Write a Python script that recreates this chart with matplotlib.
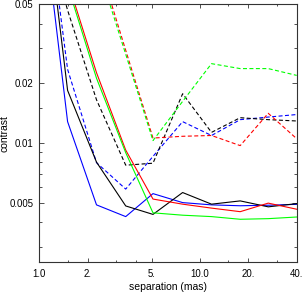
import matplotlib
matplotlib.use("Agg")
import matplotlib.pyplot as plt
from matplotlib.ticker import FixedLocator, FixedFormatter, NullFormatter

# separations (mas) of the curve vertices
separation = [1.0, 1.5, 2.27, 3.45, 5.1, 7.8, 11.8, 17.8, 26.6, 40.0]

blue_solid = [0.20, 0.0128, 0.00487, 0.00425, 0.00555, 0.0050, 0.00487, 0.00482, 0.00485, 0.0049]
black_solid = [0.28, 0.0184, 0.0080, 0.00481, 0.00436, 0.00562, 0.00491, 0.0051, 0.00476, 0.00494]
red_solid = [0.21, 0.0655, 0.0226, 0.0092, 0.00521, 0.00491, 0.00469, 0.0045, 0.00497, 0.00463]
green_solid = [0.20, 0.0622, 0.0212, 0.00893, 0.00444, 0.00432, 0.00425, 0.00412, 0.00415, 0.00423]

blue_dashed = [0.30, 0.0235, 0.00795, 0.00585, 0.00855, 0.0128, 0.0109, 0.0131, 0.0135, 0.0139]
black_dashed = [0.149, 0.0467, 0.0165, 0.00772, 0.0079, 0.0177, 0.0113, 0.0134, 0.0131, 0.0129]
red_dashed = [0.80, 0.269, 0.0884, 0.0293, 0.01058, 0.0108, 0.0109, 0.00969, 0.0141, 0.0105]
green_dashed = [0.75, 0.25, 0.0815, 0.028, 0.01027, 0.0162, 0.0251, 0.0237, 0.0237, 0.0219]

x_major = [1.0, 2.0, 5.0, 10.0, 20.0, 40.0]
x_labels = ["1.0", "2.", "5.", "10.0", "20.", "40."]
x_minor = [1.5, 3.0, 4.0, 15.0, 30.0]
y_major = [0.005, 0.01, 0.02, 0.05]
y_labels = ["0.005", "0.01", "0.02", "0.05"]
y_minor = [0.003, 0.004, 0.006, 0.007, 0.008, 0.009, 0.015, 0.03, 0.04]

plt.rcParams["font.family"] = ["Liberation Sans", "DejaVu Sans"]

fig = plt.figure(figsize=(3.04, 2.93), dpi=100)
ax = fig.add_axes([39.3 / 304, 30.7 / 293, 257.4 / 304, 258.0 / 293])

lw = 0.8
dash = (3.6, 2.2)
solid = [(blue_solid, "#0000ff"), (black_solid, "black"),
         (red_solid, "#ff0000"), (green_solid, "#00ff00")]
dashed = [(blue_dashed, "#0000ff"), (black_dashed, "black"),
          (red_dashed, "#ff0000"), (green_dashed, "#00ff00")]
for vals, col in dashed:
    ax.plot(separation, vals, color=col, lw=lw, dashes=dash)
for vals, col in solid:
    ax.plot(separation, vals, color=col, lw=lw)

ax.set_xscale("log")
ax.set_yscale("log")
ax.set_xlim(1.0, 40.0)
ax.set_ylim(0.0025, 0.05)

ax.xaxis.set_major_locator(FixedLocator(x_major))
ax.xaxis.set_major_formatter(FixedFormatter(x_labels))
ax.xaxis.set_minor_locator(FixedLocator(x_minor))
ax.xaxis.set_minor_formatter(NullFormatter())
ax.yaxis.set_major_locator(FixedLocator(y_major))
ax.yaxis.set_major_formatter(FixedFormatter(y_labels))
ax.yaxis.set_minor_locator(FixedLocator(y_minor))
ax.yaxis.set_minor_formatter(NullFormatter())

ax.tick_params(which="both", direction="in", top=True, right=True,
               labelsize=6.9, width=0.6, color="#333333")
ax.tick_params(axis="x", which="major", length=2.6, pad=4.5)
ax.tick_params(axis="x", which="minor", length=1.4)
ax.tick_params(axis="y", which="major", length=3.8, pad=4.3)
ax.tick_params(axis="y", which="minor", length=2.0)
for sp in ax.spines.values():
    sp.set_linewidth(0.8)
    sp.set_color("#333333")

fig.text(168 / 304, 6.3 / 293, "separation (mas)", ha="center", va="center", fontsize=7.5)
fig.text(4.2 / 304, 159.7 / 293, "contrast", ha="center", va="center",
         rotation=90, fontsize=7.5)

fig.savefig("out.png", dpi=100)
